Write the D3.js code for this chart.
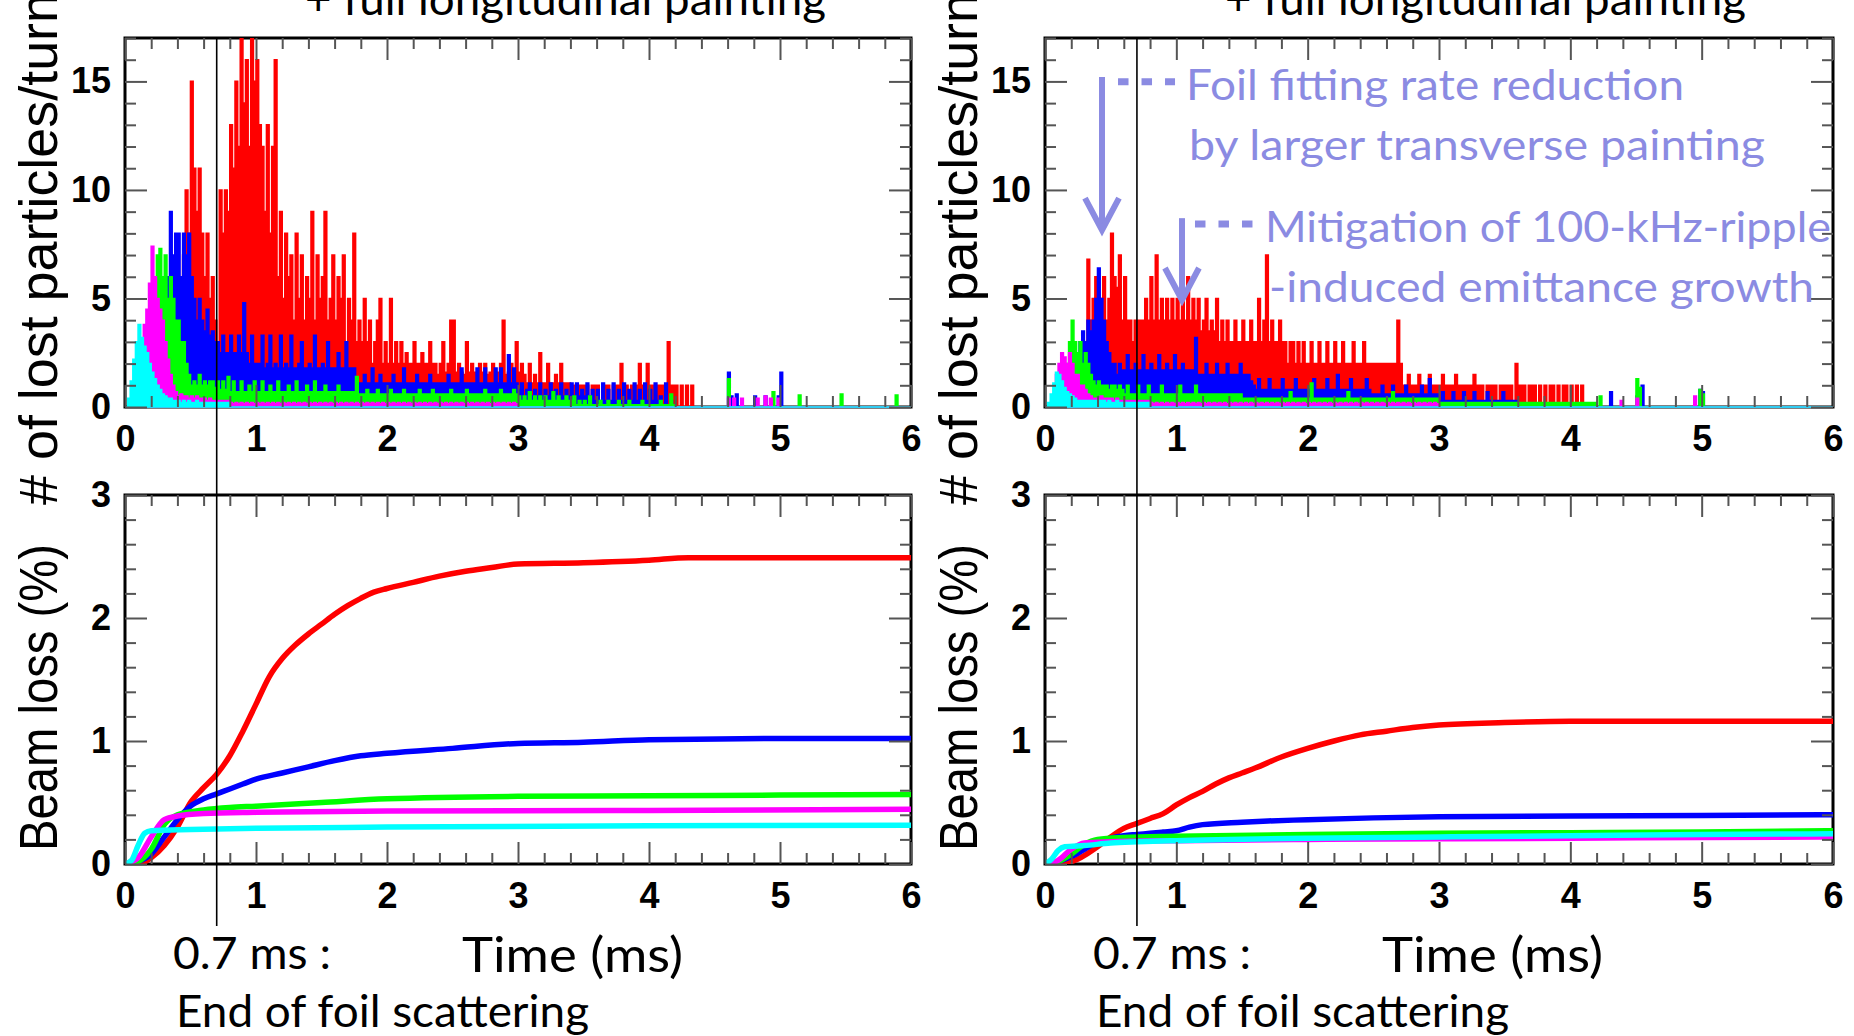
<!DOCTYPE html>
<html><head><meta charset="utf-8">
<script src="https://cdn.jsdelivr.net/npm/d3@7"></script>
<style>
html,body{margin:0;padding:0;background:#fff;}
svg{display:block;}
</style></head>
<body>
<svg id="fig" width="1854" height="1036"></svg>
<script>
// ---- shared axis settings ----
const timeDomain = [0, 6];                 // ms
const timeTicks = [0, 1, 2, 3, 4, 5, 6];
const timeMinor = d3.range(0, 6.001, 0.2);
const lostTicks = [0, 5, 10, 15];
const lostMinor = d3.range(0, 17.001, 1);
const lossTicks = [0, 1, 2, 3];
const lossMinor = d3.range(0, 3.001, 0.2);
const binWidth = 0.02;                     // ms per histogram bin (rows below hold 10 bins = 0.2 ms)
const foilEnd = 0.7;                       // ms

// ---- lost particles per turn, left case ----
const lostL_red = [
0,0,0,0,0,0,0,0,0,0,
0,0,0,0,0,1,2,2,3,4,
5,6,7,10,8,15,11,9,11,8,
6,8,5,6,4,3,10,8,10,9,
13,11,15,12,17,14,16,12,17,15,
16,13,12,9,13,8,12,16,6,9,
5,8,6,7,4,8,5,7,4,6,
5,9,4,7,5,6,9,4,5,7,
4,6,5,7,3,5,4,8,3,4,
3,5,3,4,2,3,4,5,2,3,
2,5,2,3,2,3,2,2.5,2,2,
3,2,2,2.5,2,2,3,2,2,1.5,
2,3,1.6,2,4,4,1.6,2,1.6,1.5,
3,1.6,2,1.6,1.5,2,1.6,2,1.5,1.6,
2,1.5,1.6,2,4,1.5,1.6,2,1.5,3,
1.6,2,1.5,1.1,2,1.1,1.5,1.1,2.5,1.1,
1.1,2,1.1,1.1,1.5,1.1,2,1.1,1.1,1.1,
1,1,1,1,1,1,1,0,1,1,
1,0,1,1,1,0,1,1,1,2,
1,1,0,1,1,1,2,1,1,2,
1,1,0,1,1,1,1,3,1,1,
1,0,1,0,1,0,1];
const lostL_blue = [
0,0,0,0,0,0,0,0,0,0,
0,0,0,1,2,4,6,9,7,8,
8,6,8,7,8,6,5,4,5,4,
3.5,4.5,3.3,3.5,3,3,2.5,3.3,2.5,2.5,
3.3,2.5,2.5,3.3,2.5,4.8,2.5,2,3.3,2,
2,2,3.3,1.8,2,3.3,1.8,2,1.8,3.3,
1.8,2,1.8,3.3,1.8,1.8,2,3,1.8,1.8,
2,1.8,3.3,1.8,1.8,2,1.8,3,1.8,1.8,
1.8,2.5,1.8,1.8,3,1.8,1.8,1.8,1.1,1.1,
1.1,1.5,1.1,1.1,1.8,1.1,1.1,1.5,1.1,1.1,
1.1,1.1,1.5,1.1,1.1,1.1,1.8,1.1,1.1,1.1,
1.1,1.5,1.1,1.1,1.1,1.1,1.5,1.1,1.1,1.1,
1.1,1.1,1.1,1.5,1.1,1.1,1.1,1.1,1.8,1.1,
1.1,1.1,1.1,1.1,1.8,1.1,1.1,1.8,1.1,1.1,
1.1,1.8,1.1,1.8,1.1,1.1,2.4,1.1,1.8,1.1,
0.8,1.1,0.5,0.8,1.1,0.5,0.8,0.5,1.1,0.5,
0.8,0.5,1.1,0.5,0.8,0.5,1.1,0.5,0.8,0.5,
1.1,0.5,1.1,0.5,0.8,0.5,1.1,0.5,0.8,0.3,
0.8,0.3,1.1,0.3,0.8,0.3,1.1,0.3,0.8,0.3,
1.1,0.3,0.8,0.3,1.1,0.3,0.8,0.3,1.1,0.3,
0.8,0.3,1.1,0.3,0.5,0,1.1,0,0.3,0,
0,0,0,0,0,0,0,0,0,0,
0,0,0,0,0,0,0,0,0,0,
1.6,0.5,0,0.6,0,0,0,0,0,0,
0.5,0,0,0,0.5,0,0,0,0,0.5,
1.6];
const lostL_green = [
0,0,0,0,0,0,0,0,0,1,
3,5,7,7.3,6,7,5,6,5,4,
4,3,3,2,1.5,1,1.2,1,1.5,1,
1.2,1,1.2,1.2,0.9,1.2,0.8,1.2,0.8,1.4,
0.7,1.2,0.7,0.7,1.2,0.7,0.7,1,0.7,1.2,
0.7,0.7,1.2,0.7,0.7,1,0.7,0.7,1.2,0.7,
0.7,0.7,1,0.7,0.7,1.2,0.7,0.7,0.7,1,
0.7,0.7,1.2,0.7,0.7,0.7,1,0.7,0.7,0.7,
0.7,1,0.7,0.7,0.7,0.7,0.7,0.7,1.4,0.6,
0.6,0.6,0.8,0.6,0.6,0.6,0.8,0.6,0.6,0.6,
0.6,0.8,0.6,0.6,0.6,0.6,0.8,0.6,0.6,0.6,
0.6,0.6,0.8,0.6,0.6,0.6,0.6,0.8,0.6,0.6,
0.6,0.6,0.6,0.6,0.8,0.6,0.6,0.6,0.6,0.6,
0.8,0.6,0.6,0.6,0.6,0.6,0.6,0.8,0.6,0.6,
0.6,0.6,0.6,0.8,0.6,0.6,0.6,0.6,0.8,0.6,
0.5,0.3,0.5,0.3,0.7,0.3,0.5,0.3,0.5,0.3,
0.5,0.3,0.3,0.7,0.3,0.5,0.3,0.3,0.5,0.3,
0.3,0.5,0.1,0.3,0.1,0.3,0.1,0.5,0.1,0.1,
0.1,0.3,0.1,0.1,0.3,0.1,0.1,0.1,0.3,0.1,
0.1,0.1,0.3,0.1,0.1,0.1,0.1,0.3,0.1,0.1,
0.1,0.1,0.1,0.1,0.3,0.1,0.1,0.1,0.6,0.1,
0,0,0,0,0,0,0,0,0,0,
0,0,0,0,0,0,0,0,0,0,
1.3,0,0,0,0,0,0,0,0,0,
0,0,0,0,0,0,0,0.7,0,0,
0,0,0,0,0,0,0,0.55,0,0,
0,0,0,0,0,0,0,0,0,0,
0,0,0,0.6,0,0,0,0,0,0,
0,0,0,0,0,0,0,0,0,0,
0,0,0,0,0.55];
const lostL_magenta = [
0,0,0,0.5,1.5,2.2,2.8,3.8,4.5,5.7,
7.4,6,5,4.5,4,3,2.2,1.5,1,0.7,
0.5,0.6,0.5,0.5,0.4,0.5,0.4,0.5,0.4,0.4,
0.4,0.3,0.4,0.3,0.3,0.3,0.3,0.3,0.3,0.3,
0.2,0.15,0.2,0.15,0.2,0.15,0.2,0.15,0.2,0.15,
0.2,0.15,0.2,0.15,0.2,0.15,0.2,0.15,0.2,0.15,
0.2,0.15,0.2,0.15,0.2,0.15,0.2,0.15,0.2,0.15,
0.2,0.15,0.2,0.15,0.2,0.15,0.2,0.15,0.2,0.15,
0.2,0.15,0.2,0.15,0.2,0.15,0.2,0.15,0.2,0.15,
0.2,0.15,0.2,0.15,0.2,0.15,0.2,0.15,0.2,0.15,
0.2,0.15,0.2,0.15,0.2,0.15,0.2,0.15,0.2,0.15,
0.2,0.15,0.2,0.15,0.2,0.15,0.2,0.15,0.2,0.15,
0.2,0.15,0.2,0.15,0.2,0.15,0.2,0.15,0.2,0.15,
0.2,0.15,0.2,0.15,0.2,0.15,0.2,0.15,0.2,0.15,
0.2,0.15,0.2,0.15,0.2,0.15,0.2,0.15,0.2,0.15,
0,0,0,0,0,0,0,0,0,0,
0,0,0,0,0,0,0,0,0,0,
0,0,0,0,0,0,0,0,0,0,
0,0,0,0,0,0,0,0,0,0,
0,0,0,0,0,0,0,0,0,0,
0,0,0,0,0,0,0,0,0,0,
0,0,0,0,0,0,0,0,0,0,
0,0,0,0,0,0,0,0,0,0,
0.4,0,0.4,0,0,0.4,0,0,0,0,
0,0.4,0,0,0.5,0,0.4,0,0,0.4];
const lostL_cyan = [
0,0.4,1.2,2.2,3,3.8,3.2,2.8,2.5,2,
1.6,1.3,1,0.8,0.6,0.5,0.4,0.4,0.3,0.3,
0.3,0.2,0.3,0.2,0.3,0.2,0.2,0.3,0.2,0.2,
0.2,0.2,0.2,0.2,0.2,0.2,0.2,0.2,0.2,0.2];

// ---- lost particles per turn, right case ----
const lostR_red = [
0,0,0,0,0,0,0,0,0,0,
0,0,0,0,1,3,6.8,4,5,6,
4,5,6,4,5,8,6,5.5,7,4,
6,4,4,3,4,4,4,4,5,4,
6,4,7,4,5,4,5,4,5,4,
5,4,5,4,6,4,5,4,5,3.5,
4,5,3.5,4,3.5,5,3,4,3,4,
3,3,4,3,3,4,3,3,4,3,
3,5,3,4,7,3,4,3,3,4,
3,3,2,3,3,2,3,2,3,2,
2,3,2,2,3,2,2,3,2,2,
3,2,2,3,2,2,2,3,2,2,
2,3,2,2,2,2,2,2,2,2,
2,2,2,2,4,2,1,1,1.5,1,
1,1,1.5,1,1,1,1.5,1,1,1,
1,1.5,1,1,1,1,1.5,1,1,1,
1,1,1,1.5,1,1,1,0,1,1,
1,1,0,1,1,1,1,1,0,2,
1,1,1,0,1,1,1,0,1,0,
1,0,1,1,0,1,0,1,1,0,
1,0,1,0,1];
const lostR_blue = [
0,0,0,0,0,0,0,0,0,0.5,
1,2,2.5,3,3.5,3,4,3.5,4,5,
6.4,5,4,3,2.5,2,2,1.5,2,1.7,
1.7,2.4,1.7,1.7,2,1.7,1.7,2.4,1.7,1.7,
2,1.7,1.7,2.4,1.7,1.7,2,1.7,1.7,2.4,
1.7,1.7,2,1.7,1.7,1.7,1.7,3.2,1.5,1.5,
1.5,2,1.5,1.5,1.5,2,1.5,1.5,1.5,2,
1.5,1.5,1.5,1.5,2,1.5,1.5,1.5,1.2,1,
0.8,1.3,0.8,0.8,0.8,1.3,0.8,0.8,0.8,0.8,
1.3,0.8,0.8,0.8,0.8,1.3,0.8,0.8,0.8,0.8,
0.8,0.8,1.3,0.8,0.8,0.8,0.8,1.3,0.8,0.8,
0.8,1.5,0.8,0.8,0.8,0.8,1.3,0.8,0.8,0.8,
0.8,0.8,1.3,0.8,0.6,0.6,0.6,0.6,1,0.6,
0.6,0.6,1,0.6,0.6,0.6,0.6,1,0.6,0.6,
0.6,0.6,0.6,1,0.6,0.6,1.3,0.6,0.6,0.6,
0.3,0.7,0.3,0.3,0.3,0.7,0.3,0.3,0.3,0.7,
0.3,0.3,0.3,0.7,0.3,0.3,0.3,0.3,0.7,0.3,
0.3,0.3,0.3,0.3,0.7,0.3,0.3,0.3,0.3,0.3,
0,0,0,0,0,0,0,0,0,0,
0,0,0,0,0,0,0,0,0,0,
0,0,0,0,0,0,0,0,0,0,
0,0,0,0,0,0.7,0,0,0,0,
0,0,0,0,0,0.5,0,1,0,0,
0,0,0,0,0,0,0,0,0,0,
0,0,0,0,0,0,0,0,0,0.8,
0.7];
const lostR_green = [
0,0,0,0,0,0,0.5,1,2,3,
4,3,2.5,3,2,2.5,2,1.5,1.2,1,
1.2,1,1,1,0.8,1,1,0.8,1,0.8,
0.6,1,0.6,0.6,0.6,1,0.6,0.6,0.6,1,
0.6,0.6,0.6,0.6,1,0.6,0.6,0.6,0.6,0.6,
0.6,1,0.6,0.6,0.6,0.6,0.6,1,0.6,0.6,
0.6,0.6,0.6,0.6,0.6,0.6,0.6,0.6,0.6,0.6,
0.6,0.6,0.6,0.6,0.6,0.4,0.4,0.4,0.4,0.4,
0.4,0.4,0.4,0.4,0.4,0.4,0.4,0.4,0.4,0.4,
0.4,0.4,0.4,0.7,0.4,0.4,0.4,0.4,0.4,0.4,
0.4,1.1,0.4,0.4,0.4,0.4,0.4,0.4,0.4,0.4,
0.4,0.4,0.4,0.4,0.4,0.7,0.4,0.4,0.4,0.4,
0.4,0.4,0.4,0.4,0.4,0.4,0.4,0.4,0.4,0.4,
0.4,0.4,0.7,0.4,0.4,0.4,0.4,0.4,0.4,0.4,
0.4,0.4,0.4,0.4,0.4,0.4,0.4,0.4,0.4,0.4,
0.2,0.2,0.2,0.2,0.2,0.2,0.2,0.2,0.2,0.2,
0.2,0.2,0.2,0.2,0.2,0.2,0.2,0.2,0.2,0.2,
0.2,0.2,0.2,0.2,0.2,0.2,0.2,0.2,0.2,0.2,
0.2,0.2,0.2,0.2,0.2,0.2,0.2,0.2,0.2,0.2,
0.2,0.2,0.2,0.2,0.2,0.2,0.2,0.2,0.2,0.2,
0.2,0.2,0.2,0.2,0.2,0.2,0.2,0.2,0.2,0.2,
0,0.5,0,0,0,0,0,0,0,0,
0,0,0,0,0,1.3,0.9,0,0,0,
0,0,0,0,0,0,0,0,0,0,
0,0,0,0,0,0,0,0,0,0.8,
0.6];
const lostR_magenta = [
0,0,0,0.5,1.5,2,2.5,2.3,2,2.5,
2,1.5,1.5,1,1,0.8,0.6,0.5,0.4,0.4,
0.4,0.5,0.4,0.4,0.4,0.4,0.3,0.4,0.3,0.3,
0.3,0.3,0.3,0.3,0.3,0.3,0.3,0.3,0.3,0.3,
0.2,0.15,0.2,0.15,0.2,0.15,0.2,0.15,0.2,0.15,
0.2,0.15,0.2,0.15,0.2,0.15,0.2,0.15,0.2,0.15,
0.2,0.15,0.2,0.15,0.2,0.15,0.2,0.15,0.2,0.15,
0.2,0.15,0.2,0.15,0.2,0.15,0.2,0.15,0.2,0.15,
0.2,0.15,0.2,0.15,0.2,0.15,0.2,0.15,0.2,0.15,
0.2,0.15,0.2,0.15,0.2,0.15,0.2,0.15,0.2,0.15,
0.2,0.15,0.2,0.15,0.2,0.15,0.2,0.15,0.2,0.15,
0.2,0.15,0.2,0.15,0.2,0.15,0.2,0.15,0.2,0.15,
0.2,0.15,0.2,0.15,0.2,0.15,0.2,0.15,0.2,0.15,
0.2,0.15,0.2,0.15,0.2,0.15,0.2,0.15,0.2,0.15,
0.2,0.15,0.2,0.15,0.2,0.15,0.2,0.15,0.2,0.15,
0,0,0,0,0,0,0,0,0,0,
0,0,0,0,0,0,0,0,0,0,
0,0,0,0,0,0,0,0,0,0,
0,0,0,0,0,0,0,0,0,0,
0,0,0,0,0,0,0,0,0,0,
0,0,0,0,0,0,0,0,0,0,
0,0,0,0,0,0,0,0,0,0.3,
0,0,0,0,0,0.4,0,0,0,0,
0,0,0,0,0,0,0,0,0,0,
0,0,0,0,0,0,0,0.5];
const lostR_cyan = [
0,0.2,0.6,1.1,1.6,1.5,1.2,0.9,0.7,0.6,
0.5,0.4,0.3,0.3,0.3,0.3,0.3,0.3,0.3,0.3,
0.3,0.3,0.3,0.2,0.3,0.2,0.2,0.3,0.2,0.2,
0.2,0.2,0.2,0.2,0.2,0.2,0.2,0.2,0.2,0.2];

// ---- cumulative beam loss (%) vs time (ms) ----
const beamL_red = [[0,0],[0.1,0],[0.2,0.05],[0.3,0.15],[0.4,0.3],[0.5,0.5],[0.6,0.62],[0.7,0.73],[0.8,0.88],[0.9,1.08],[1.0,1.3],[1.1,1.52],[1.2,1.67],[1.3,1.78],[1.4,1.87],[1.5,1.95],[1.6,2.03],[1.7,2.1],[1.8,2.16],[1.9,2.21],[2.0,2.24],[2.2,2.29],[2.4,2.34],[2.6,2.38],[2.8,2.41],[3.0,2.44],[3.5,2.45],[4.0,2.47],[4.3,2.49],[5.0,2.49],[6.0,2.49]];
const beamL_blue = [[0,0],[0.1,0.02],[0.2,0.08],[0.3,0.22],[0.4,0.36],[0.5,0.47],[0.6,0.53],[0.7,0.57],[0.8,0.61],[0.9,0.65],[1.0,0.69],[1.2,0.74],[1.4,0.79],[1.6,0.84],[1.8,0.88],[2.0,0.9],[2.5,0.94],[3.0,0.98],[3.5,0.99],[4.0,1.01],[5.0,1.02],[6.0,1.02]];
const beamL_green = [[0,0],[0.1,0.02],[0.2,0.12],[0.3,0.32],[0.4,0.4],[0.6,0.44],[0.8,0.46],[1.0,0.47],[1.5,0.5],[2.0,0.53],[3.0,0.55],[4.0,0.555],[5.0,0.56],[6.0,0.565]];
const beamL_magenta = [[0,0],[0.1,0.05],[0.2,0.22],[0.3,0.36],[0.4,0.39],[0.6,0.41],[1.0,0.42],[2.0,0.43],[4.0,0.435],[6.0,0.445]];
const beamL_cyan = [[0,0],[0.05,0.03],[0.1,0.15],[0.15,0.25],[0.2,0.27],[0.5,0.28],[1.0,0.29],[2.0,0.3],[4.0,0.31],[6.0,0.315]];

const beamR_red = [[0,0],[0.2,0.02],[0.4,0.14],[0.5,0.22],[0.6,0.29],[0.7,0.33],[0.8,0.37],[0.9,0.41],[1.0,0.48],[1.1,0.54],[1.2,0.59],[1.3,0.65],[1.4,0.7],[1.5,0.74],[1.6,0.78],[1.8,0.87],[2.0,0.94],[2.2,1.0],[2.4,1.05],[2.6,1.08],[2.8,1.11],[3.0,1.13],[3.5,1.15],[4.0,1.16],[5.0,1.16],[6.0,1.16]];
const beamR_blue = [[0,0],[0.1,0.02],[0.2,0.06],[0.3,0.12],[0.4,0.18],[0.5,0.21],[0.6,0.23],[0.7,0.24],[0.8,0.25],[0.9,0.26],[1.0,0.27],[1.1,0.3],[1.2,0.32],[1.5,0.34],[1.7,0.35],[2.0,0.36],[2.5,0.375],[3.0,0.385],[4.0,0.39],[5.0,0.395],[6.0,0.4]];
const beamR_green = [[0,0],[0.1,0.02],[0.2,0.08],[0.3,0.16],[0.4,0.2],[0.6,0.215],[1.0,0.225],[2.0,0.24],[3.0,0.25],[4.0,0.255],[5.0,0.26],[6.0,0.27]];
const beamR_magenta = [[0,0],[0.1,0.03],[0.2,0.12],[0.3,0.17],[0.5,0.18],[1.0,0.19],[2.0,0.2],[3.0,0.205],[4.0,0.21],[5.0,0.215],[6.0,0.22]];
const beamR_cyan = [[0,0],[0.05,0.04],[0.1,0.11],[0.15,0.14],[0.3,0.15],[0.5,0.17],[0.7,0.18],[1.0,0.19],[2.0,0.21],[3.0,0.22],[4.0,0.23],[5.0,0.24],[6.0,0.245]];

// ---- annotation arrows on the right loss-rate frame (data units) ----
const arrowsR = [{t: 0.434, from: 15.2, to: 8.15}, {t: 1.043, from: 8.7, to: 4.93}];
const dashesR = [{t0: 0.556, t1: 0.99, v: 14.98}, {t0: 1.142, t1: 1.6, v: 8.43}];

const seriesColors = {red: "#ff0000", blue: "#0000ff", green: "#00ff00", magenta: "#ff00ff", cyan: "#00ffff"};
const drawOrder = ["red", "blue", "green", "magenta", "cyan"];

const lostSets = {
  L: {red: lostL_red, blue: lostL_blue, green: lostL_green, magenta: lostL_magenta, cyan: lostL_cyan},
  R: {red: lostR_red, blue: lostR_blue, green: lostR_green, magenta: lostR_magenta, cyan: lostR_cyan}
};
const beamSets = {
  L: {red: beamL_red, blue: beamL_blue, green: beamL_green, magenta: beamL_magenta, cyan: beamL_cyan},
  R: {red: beamR_red, blue: beamR_blue, green: beamR_green, magenta: beamR_magenta, cyan: beamR_cyan}
};

// ---- layout ----
const W = 1854, H = 1036;
const cols = {L: {x0: 125, x1: 911}, R: {x0: 1045, x1: 1833}};
const rowTop = {y0: 38, y1: 407};
const rowBot = {y0: 495, y1: 864};
const TICK_FONT = "'Liberation Sans', Arial, Helvetica, sans-serif";
const TEXT_FONT = "Lato, 'Open Sans', sans-serif";
const annColor = "#8b8be2";

const svg = d3.select("#fig");
svg.append("rect").attr("width", W).attr("height", H).attr("fill", "#fff");
const defs = svg.append("defs");

function styleAxis(g, showLabels) {
  g.select(".domain").remove();
  g.selectAll(".tick line").attr("stroke", "#555").attr("stroke-width", 2);
  if (showLabels) {
    g.selectAll(".tick text")
      .attr("font-family", TICK_FONT).attr("font-weight", "bold")
      .attr("font-size", 36).attr("fill", "#000");
  } else {
    g.selectAll(".tick text").remove();
  }
}

function drawAxes(g, x, y, yMajor, yMinorVals) {
  const [ya, yb] = [y.range()[0], y.range()[1]];
  const [xa, xb] = x.range();
  const xMinorOnly = timeMinor.filter(v => Math.abs(v - Math.round(v)) > 1e-6);
  const yMinorOnly = yMinorVals.filter(v => !yMajor.some(m => Math.abs(m - v) < 1e-6));
  // bottom
  g.append("g").attr("transform", `translate(0,${ya})`)
    .call(d3.axisBottom(x).tickValues(xMinorOnly).tickSizeInner(-11).tickSizeOuter(0).tickFormat(""))
    .call(s => styleAxis(s, false));
  g.append("g").attr("transform", `translate(0,${ya})`)
    .call(d3.axisBottom(x).tickValues(timeTicks).tickSizeInner(-22).tickSizeOuter(0).tickPadding(18).tickFormat(d3.format("d")))
    .call(s => styleAxis(s, true));
  // top
  g.append("g").attr("transform", `translate(0,${yb})`)
    .call(d3.axisTop(x).tickValues(xMinorOnly).tickSizeInner(-11).tickSizeOuter(0).tickFormat(""))
    .call(s => styleAxis(s, false));
  g.append("g").attr("transform", `translate(0,${yb})`)
    .call(d3.axisTop(x).tickValues(timeTicks).tickSizeInner(-22).tickSizeOuter(0).tickFormat(""))
    .call(s => styleAxis(s, false));
  // left
  g.append("g").attr("transform", `translate(${xa},0)`)
    .call(d3.axisLeft(y).tickValues(yMinorOnly).tickSizeInner(-11).tickSizeOuter(0).tickFormat(""))
    .call(s => styleAxis(s, false));
  g.append("g").attr("transform", `translate(${xa},0)`)
    .call(d3.axisLeft(y).tickValues(yMajor).tickSizeInner(-22).tickSizeOuter(0).tickPadding(14).tickFormat(d3.format("d")))
    .call(s => styleAxis(s, true));
  // right
  g.append("g").attr("transform", `translate(${xb},0)`)
    .call(d3.axisRight(y).tickValues(yMinorOnly).tickSizeInner(-11).tickSizeOuter(0).tickFormat(""))
    .call(s => styleAxis(s, false));
  g.append("g").attr("transform", `translate(${xb},0)`)
    .call(d3.axisRight(y).tickValues(yMajor).tickSizeInner(-22).tickSizeOuter(0).tickFormat(""))
    .call(s => styleAxis(s, false));
}

function frameRect(g, x, y) {
  g.append("rect")
    .attr("x", x.range()[0]).attr("y", y.range()[1])
    .attr("width", x.range()[1] - x.range()[0]).attr("height", y.range()[0] - y.range()[1])
    .attr("fill", "none").attr("stroke", "#000").attr("stroke-width", 3);
}

function addText(g, str, x, y, size, len, color) {
  g.append("text").attr("x", x).attr("y", y)
    .attr("font-family", TEXT_FONT).attr("font-size", size).attr("fill", color || "#000")
    .attr("textLength", len).attr("lengthAdjust", "spacingAndGlyphs")
    .text(str);
}

function addYTitle(g, str, xBase, yStart, len) {
  g.append("text")
    .attr("transform", `translate(${xBase},${yStart}) rotate(-90)`)
    .attr("font-family", TICK_FONT).attr("font-size", 54).attr("fill", "#000")
    .attr("textLength", len).attr("lengthAdjust", "spacingAndGlyphs")
    .text(str);
}

["L", "R"].forEach(side => {
  const c = cols[side];
  const off = c.x0 - cols.L.x0;
  const g = svg.append("g");
  const x = d3.scaleLinear().domain(timeDomain).range([c.x0, c.x1]);
  const yTop = d3.scaleLinear().domain([0, 17]).range([rowTop.y1, rowTop.y0]);
  const yBot = d3.scaleLinear().domain([0, 3]).range([rowBot.y1, rowBot.y0]);

  // clip regions
  const clipTop = `clipTop${side}`, clipBot = `clipBot${side}`;
  defs.append("clipPath").attr("id", clipTop).append("rect")
    .attr("x", c.x0).attr("y", rowTop.y0).attr("width", c.x1 - c.x0).attr("height", rowTop.y1 - rowTop.y0 + 2);
  defs.append("clipPath").attr("id", clipBot).append("rect")
    .attr("x", c.x0).attr("y", rowBot.y0).attr("width", c.x1 - c.x0).attr("height", rowBot.y1 - rowBot.y0);

  // ---- upper frame: lost particles per turn ----
  frameRect(g, x, yTop);
  const hist = d3.area()
    .x(d => x(d[0])).y0(yTop(0)).y1(d => yTop(d[1]))
    .curve(d3.curveStepAfter);
  const hg = g.append("g").attr("clip-path", `url(#${clipTop})`);
  drawOrder.forEach(name => {
    const vals = lostSets[side][name];
    const nb = Math.round((timeDomain[1] - timeDomain[0]) / binWidth);
    const pts = d3.range(nb).map(i => [i * binWidth, vals[i] || 0]);
    pts.push([timeDomain[1], 0]);
    hg.append("path").datum(pts).attr("d", hist)
      .attr("fill", seriesColors[name]).attr("stroke", seriesColors[name])
      .attr("stroke-width", 1.6).attr("stroke-linejoin", "miter");
  });
  drawAxes(g, x, yTop, lostTicks, lostMinor);

  // ---- lower frame: cumulative beam loss ----
  frameRect(g, x, yBot);
  const line = d3.line().x(d => x(d[0])).y(d => yBot(d[1])).curve(d3.curveMonotoneX);
  const lg = g.append("g").attr("clip-path", `url(#${clipBot})`);
  drawOrder.forEach(name => {
    lg.append("path").datum(beamSets[side][name]).attr("d", line)
      .attr("fill", "none").attr("stroke", seriesColors[name]).attr("stroke-width", 5.5);
  });
  drawAxes(g, x, yBot, lossTicks, lossMinor);

  // end of foil scattering marker
  g.append("line")
    .attr("x1", x(foilEnd)).attr("x2", x(foilEnd))
    .attr("y1", rowTop.y0).attr("y2", 926)
    .attr("stroke", "#000").attr("stroke-width", 1.6);

  // axis titles
  addYTitle(g, "# of lost particles/turn", 57 + off, 505, 512);
  addYTitle(g, "Beam loss (%)", 57 + off, 851, 307);
  addText(g, "0.7 ms :", 173 + off, 969, 45, 158);
  addText(g, "Time (ms)", 462 + off, 972, 49, 221);
  addText(g, "End of foil scattering", 176 + off, 1027, 45, 413);
  addText(g, "+ full longitudinal painting", 305 + off, 15, 45, 521);

  if (side === "R") {
    const ag = g.append("g");
    dashesR.forEach(d => {
      ag.append("line")
        .attr("x1", x(d.t0)).attr("x2", x(d.t1)).attr("y1", yTop(d.v)).attr("y2", yTop(d.v))
        .attr("stroke", annColor).attr("stroke-width", 7).attr("stroke-dasharray", "10.5,13");
    });
    arrowsR.forEach(a => {
      const ax = x(a.t), ya = yTop(a.from), yt = yTop(a.to);
      ag.append("line").attr("x1", ax).attr("x2", ax).attr("y1", ya).attr("y2", yt - 3)
        .attr("stroke", annColor).attr("stroke-width", 6);
      ag.append("path")
        .attr("d", `M${ax - 17},${yt - 32} L${ax},${yt} L${ax + 17},${yt - 32}`)
        .attr("fill", "none").attr("stroke", annColor).attr("stroke-width", 6)
        .attr("stroke-linejoin", "miter");
    });
    addText(ag, "Foil fitting rate reduction", 1186, 100, 43, 498, annColor);
    addText(ag, "by larger transverse painting", 1189, 160, 43, 576, annColor);
    addText(ag, "Mitigation of 100-kHz-ripple", 1265, 242, 43, 566, annColor);
    addText(ag, "-induced emittance growth", 1269, 302, 43, 545, annColor);
  }
});
</script>
</body></html>
